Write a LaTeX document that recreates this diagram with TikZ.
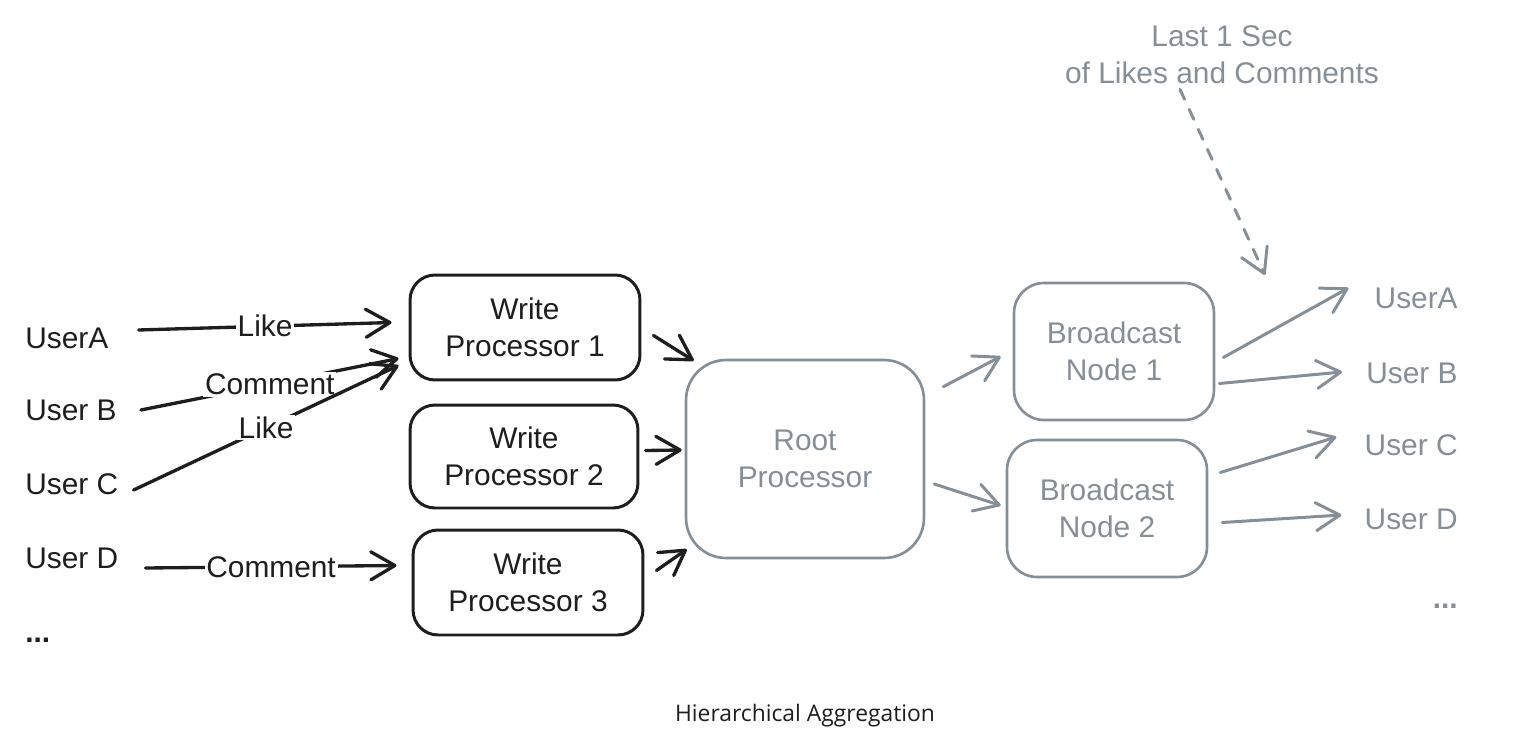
\documentclass[tikz,border=0pt]{standalone}
\usepackage{fontspec}
\setmainfont{Liberation Sans}
\newfontfamily\capfont{Open Sans}
\usetikzlibrary{arrows.meta,positioning}
\definecolor{ink}{HTML}{1E1E1E}
\definecolor{ash}{HTML}{868E96}

\begin{document}
\begin{tikzpicture}[x=0.02cm, y=-0.02cm]
        \def\hand{\fontsize{17}{21}\selectfont}
        \tikzset{
            wbox/.style={draw=ink, text=ink, line width=1.7pt, rounded corners=0.5cm,
                align=center, font=\hand, minimum width=4.6cm, minimum height=2.1cm},
            bbox/.style={wbox, draw=ash, text=ash, line width=1.5pt,
                minimum width=4cm, minimum height=2.74cm, rounded corners=0.6cm},
            rbox/.style={bbox, minimum width=4.76cm, minimum height=3.96cm, rounded corners=0.8cm},
            user/.style={inner sep=0pt, font=\hand, text=ink},
            guser/.style={user, text=ash},
            lbl/.style={fill=white, inner sep=1pt, font=\hand, text=ink},
            arr/.style={-{Straight Barb[length=4.8mm, width=5.6mm, round]}, line width=1.9pt,
                line cap=round, line join=round, draw=ink},
            garr/.style={arr, draw=ash, line width=1.7pt}
        }
        \useasboundingbox (0,0) rectangle (1520,753);

        % senders
        \node[user, anchor=west] (ua) at (25,338) {UserA};
        \node[user, anchor=west] (ub) at (25,410) {User B};
        \node[user, anchor=west] (uc) at (25,484) {User C};
        \node[user, anchor=west] (ud) at (25,558) {User D};
        \node[user, anchor=west] (udots) at (25,640) {\textbf{...}};

        % processors
        \node[wbox] (wp1) at (525,327.5) {Write\\Processor 1};
        \node[wbox, minimum width=4.56cm, minimum height=2.06cm] (wp2) at (524,456.5) {Write\\Processor 2};
        \node[wbox] (wp3) at (528,582.5) {Write\\Processor 3};
        \node[rbox] (root) at (805,459) {Root\\Processor};
        \node[bbox] (bn1) at (1114,351.5) {Broadcast\\Node 1};
        \node[bbox] (bn2) at (1107,508.5) {Broadcast\\Node 2};

        % receivers
        \node[guser, anchor=east] (ra) at (1458,298) {UserA};
        \node[guser, anchor=east] (rb) at (1458,373) {User B};
        \node[guser, anchor=east] (rc) at (1458,445) {User C};
        \node[guser, anchor=east] (rd) at (1458,519) {User D};
        \node[guser, anchor=east] (rdots) at (1458,606) {\textbf{...}};

        \node[guser, align=center] (note) at (1222,55) {Last 1 Sec\\of Likes and Comments};
        \coordinate (tip) at (1265,275);

        \node[font=\capfont\fontsize{13}{16}\selectfont, text=ink] (cap) at (805,716) {Hierarchical Aggregation};

        \begin{scope}[arr]
            \draw ([shift={(30,-8)}]ua.east) -- node[lbl] {Like} ([shift={(-17,-5)}]wp1.west);
            \draw ([shift={(24,0)}]ub.east) -- node[lbl] {Comment} ([shift={(-10,31)}]wp1.west);
            \draw ([shift={(15,6)}]uc.east) -- node[lbl] {Like} ([shift={(-10,38)}]wp1.west);
            \draw ([shift={(27,10)}]ud.east) -- node[lbl] {Comment} ([shift={(-15,-17)}]wp3.west);
            \draw ([shift={(12,8)}]wp1.east) -- ([shift={(9,2)}]root.north west);
            \draw ([shift={(6,-6)}]wp2.east) -- ([shift={(-3,-9)}]root.west);
            \draw ([shift={(12,-12)}]wp3.east) -- ([shift={(2,-10)}]root.south west);
        \end{scope}

        \begin{scope}[garr]
            \draw ([shift={(18,28)}]root.north east) -- ([shift={(-12,5)}]bn1.west);
            \draw ([shift={(9,25)}]root.east) -- ([shift={(-5,-3)}]bn2.west);
            \draw ([shift={(8,6)}]bn1.east) -- ([shift={(-26,-10)}]ra.west);
            \draw ([shift={(4,32)}]bn1.east) -- ([shift={(-24,-1)}]rb.west);
            \draw ([shift={(12,-36)}]bn2.east) -- ([shift={(-28,-8)}]rc.west);
            \draw ([shift={(14,14)}]bn2.east) -- ([shift={(-23,-4)}]rd.west);
            \draw[dash pattern=on 0.22cm off 0.22cm] ([shift={(-42,5)}]note.south) -- (tip);
        \end{scope}

        \end{tikzpicture}
\end{document}
